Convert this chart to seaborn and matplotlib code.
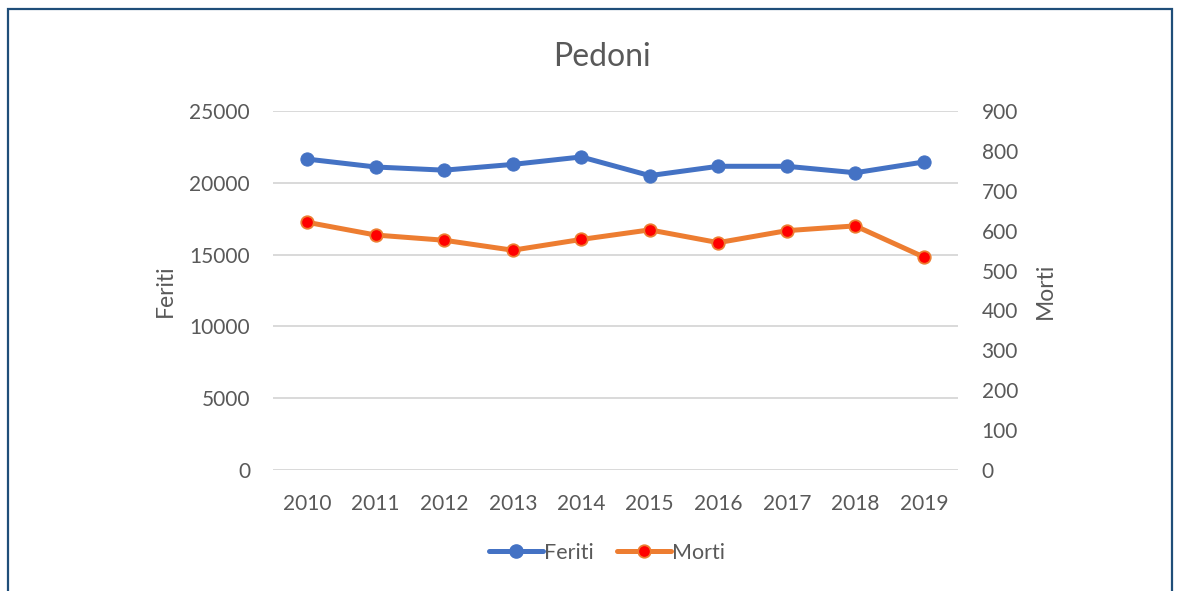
import matplotlib
matplotlib.use("Agg")
import matplotlib.pyplot as plt
import seaborn as sns
import pandas as pd
from matplotlib.patches import Rectangle
from matplotlib.lines import Line2D

years = ["2010", "2011", "2012", "2013", "2014", "2015", "2016", "2017", "2018", "2019"]
feriti = [21650, 21100, 20880, 21280, 21800, 20500, 21150, 21150, 20700, 21450]
morti = [621, 589, 576, 551, 578, 602, 570, 600, 612, 534]
left_ticks = [0, 5000, 10000, 15000, 20000, 25000]
right_ticks = [0, 100, 200, 300, 400, 500, 600, 700, 800, 900]

sns.set_theme(style="white")
plt.rcParams['font.family'] = ['Lato', 'DejaVu Sans']

df = pd.DataFrame({"pos": list(range(len(years))), "Feriti": feriti, "Morti": morti})

fig = plt.figure(figsize=(11.81, 5.91), dpi=100)
ax = fig.add_axes([273/1181, 1-470/591, (958-273)/1181, (470-111)/591])
ax2 = ax.twinx()

text_col = "#595959"
blue = "#4472C4"
orange = "#ED7D31"

sns.lineplot(data=df, x="pos", y="Feriti", ax=ax, color=blue, linewidth=3.6,
             marker="o", markersize=9.5, markeredgecolor=blue, markerfacecolor=blue, zorder=3)
sns.lineplot(data=df, x="pos", y="Morti", ax=ax2, color=orange, linewidth=3.6,
             marker="o", markersize=9, markeredgecolor=orange, markeredgewidth=1.3,
             markerfacecolor="#FF0000", zorder=3)

ax.set_xlim(-0.5, len(years) - 0.5)
ax.set_ylim(0, 25000)
ax2.set_ylim(0, 900)
ax.set_xticks(range(len(years)))
ax.set_xticklabels(years)
ax.set_yticks(left_ticks)
ax2.set_yticks(right_ticks)
ax.yaxis.grid(True, color="#D9D9D9", linewidth=1.4)
ax.xaxis.grid(False)
ax2.grid(False)
for a in (ax, ax2):
    for s in a.spines.values():
        s.set_visible(False)
    a.tick_params(length=0, labelsize=15, labelcolor=text_col)
ax.tick_params(axis="y", pad=16.5)
ax.tick_params(axis="x", pad=17)
ax2.tick_params(axis="y", pad=17)
ax.set_xlabel("")
ax.set_ylabel("Feriti", fontsize=16.5, color=text_col, labelpad=10)
ax2.set_ylabel("Morti", fontsize=16.5, color=text_col, labelpad=12)

fig.text(602/1181, 1-57/591, "Pedoni", ha="center", va="center", fontsize=23, color=text_col)

handles = [
    Line2D([], [], color=blue, linewidth=3.6, marker="o", markersize=9.5, markerfacecolor=blue, markeredgecolor=blue),
    Line2D([], [], color=orange, linewidth=3.6, marker="o", markersize=9, markerfacecolor="#FF0000",
           markeredgecolor=orange, markeredgewidth=1.3),
]
fig.legend(handles, ["Feriti", "Morti"], loc="center", bbox_to_anchor=(607/1181, 1-553/591),
           ncol=2, frameon=False, fontsize=15.5, handlelength=2.5, handletextpad=0.05,
           columnspacing=1.1, labelcolor=text_col)

fig.patches.append(Rectangle((8/1181, -0.05), (1172-8)/1181, 1.05 - 9/591, transform=fig.transFigure,
                             fill=False, edgecolor="#1F4E79", linewidth=1.6, zorder=10))

fig.savefig("out.png", dpi=100)
